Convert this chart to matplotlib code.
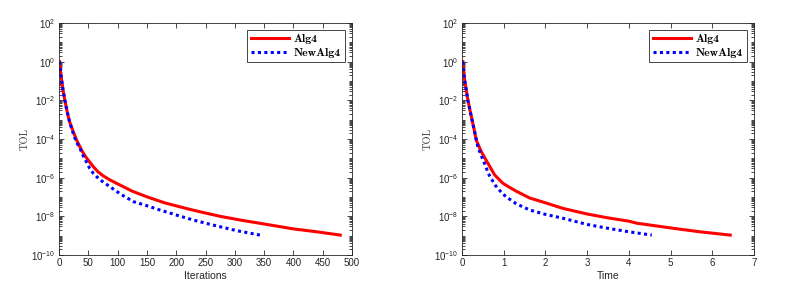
import matplotlib
matplotlib.use('Agg')
import matplotlib.pyplot as plt
import numpy as np
from matplotlib.ticker import LogLocator, NullFormatter

# Values (log10 of TOL)
it_alg4 = [1, 2.5, 4.5, 7, 10, 14, 18, 24, 30, 38, 45, 52, 58.6, 66, 75, 86, 98, 110, 125, 150, 180,
           218, 240, 275, 309, 343, 400, 440, 480]
tol_alg4 = [0, -0.5, -0.95, -1.5, -2.0, -2.6, -3.1, -3.6, -4.05, -4.55, -4.9, -5.18, -5.43, -5.68, -5.9,
            -6.1, -6.29, -6.47, -6.7, -6.99, -7.3, -7.6, -7.76, -8.0, -8.19, -8.36, -8.65, -8.8, -8.97]
it_new = [1, 2.5, 4.5, 7, 10, 14, 18, 22, 27, 31, 36, 41, 47, 52, 58.6, 65, 72, 87, 105, 127, 150, 172,
          200, 229, 260, 303, 343]
tol_new = [0, -0.5, -0.95, -1.5, -2.0, -2.6, -3.1, -3.5, -3.95, -4.22, -4.5, -4.85, -5.2, -5.5, -5.78,
           -5.97, -6.15, -6.47, -6.85, -7.24, -7.45, -7.67, -7.93, -8.19, -8.43, -8.74, -8.97]

t_alg4 = [0.02, 0.06, 0.1, 0.14, 0.2, 0.25, 0.3, 0.34, 0.4, 0.45, 0.54, 0.66, 0.78, 0.9, 0.98, 1.1, 1.3,
          1.62, 2.0, 2.42, 3.0, 3.5, 4.0, 4.2, 4.34, 5.0, 5.7, 6.43]
ttol_alg4 = [0, -0.9, -1.45, -1.98, -2.6, -3.1, -3.6, -4.05, -4.35, -4.6, -4.95, -5.4, -5.85, -6.12,
             -6.29, -6.45, -6.7, -7.05, -7.3, -7.59, -7.88, -8.08, -8.25, -8.36, -8.4, -8.6, -8.8, -8.97]
t_new = [0.02, 0.06, 0.1, 0.14, 0.2, 0.25, 0.3, 0.38, 0.46, 0.54, 0.6, 0.66, 0.73, 0.8, 0.9, 0.98, 1.1,
         1.3, 1.62, 2.0, 2.42, 3.0, 3.5, 4.0, 4.55]
ttol_new = [0, -0.9, -1.45, -1.98, -2.6, -3.1, -3.6, -4.4, -4.85, -5.26, -5.6, -5.9, -6.15, -6.4, -6.65,
            -6.85, -7.05, -7.35, -7.67, -7.9, -8.1, -8.42, -8.62, -8.8, -8.97]

plt.rcParams['mathtext.fontset'] = 'custom'
plt.rcParams['mathtext.rm'] = 'Liberation Sans'
plt.rcParams['mathtext.it'] = 'Liberation Sans:italic'
plt.rcParams['mathtext.bf'] = 'Liberation Sans:bold'
plt.rcParams['font.family'] = ['Liberation Sans', 'DejaVu Sans']

fig = plt.figure(figsize=(8.01, 2.86), dpi=100)
ax1 = fig.add_axes([59 / 801, 1 - 255 / 286, 293 / 801, 232 / 286])
ax2 = fig.add_axes([462 / 801, 1 - 255 / 286, 292 / 801, 232 / 286])

panels = [
    (ax1, it_alg4, tol_alg4, it_new, tol_new, 'Iterations', (0, 500), np.arange(0, 501, 50)),
    (ax2, t_alg4, ttol_alg4, t_new, ttol_new, 'Time', (0, 7), np.arange(0, 8, 1)),
]

for ax, xa, ya, xb, yb, xlab, xlim, xticks in panels:
    ax.semilogy(xa, 10.0 ** np.array(ya), color='#ff0000', lw=2.2, label='Alg4',
                solid_joinstyle='round')
    ax.semilogy(xb, 10.0 ** np.array(yb), color='#0000ff', lw=2.2, ls=(0, (1, 1.1)), label='NewAlg4')
    ax.set_xlim(*xlim)
    ax.set_ylim(1e-10, 1e2)
    ax.set_xticks(xticks)
    ax.set_yticks([10.0 ** k for k in range(-10, 3, 2)])
    ax.set_yticklabels([r'$10^{%d}$' % k for k in range(-10, 3, 2)])
    ax.yaxis.set_minor_locator(LogLocator(base=10, subs=np.arange(1, 10), numticks=50))
    ax.yaxis.set_minor_formatter(NullFormatter())
    ax.tick_params(which='both', direction='in', top=True, right=True, labelsize=7,
                   labelcolor='#262626', color='#262626', width=0.6)
    ax.tick_params(which='major', length=3.5, pad=2.5)
    ax.tick_params(which='minor', length=2)
    for s in ax.spines.values():
        s.set_linewidth(0.6)
        s.set_color('#262626')
    ax.set_xlabel(xlab, fontsize=7.5, color='#262626', labelpad=2)
    ax.set_ylabel('TOL', family='cmr10', fontsize=7.5, color='#404040', labelpad=1)
    leg = ax.legend(loc='upper right', prop={'family': 'cmb10', 'size': 8.5},
                    fancybox=False, framealpha=1, edgecolor='#262626',
                    borderpad=0.35, handlelength=3.2, labelspacing=0.3,
                    handletextpad=0.4, borderaxespad=0.6)
    leg.get_frame().set_linewidth(0.6)

fig.savefig('out.png', dpi=100)
